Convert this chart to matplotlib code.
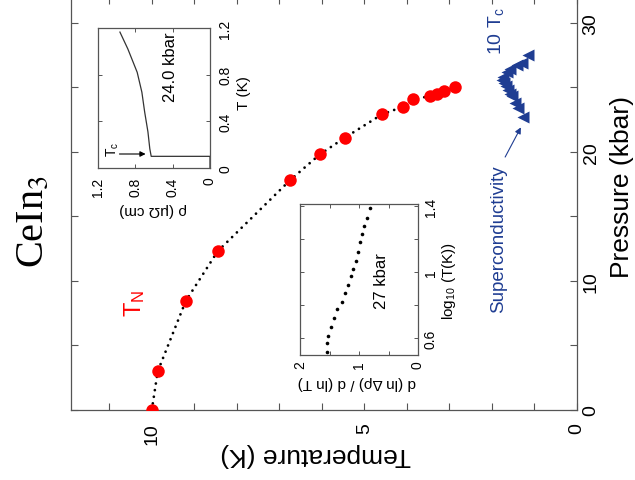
import matplotlib
matplotlib.use('Agg')
import matplotlib.pyplot as plt

plt.rcParams['font.family'] = ['Liberation Sans', 'DejaVu Sans']
plt.rcParams['mathtext.fontset'] = 'custom'
plt.rcParams['mathtext.rm'] = 'Liberation Sans'
plt.rcParams['mathtext.it'] = 'Liberation Sans:italic'

# ---------------- data ----------------
# Neel temperature T_N (K) vs pressure (kbar)
tn_T = [10.0, 9.86, 9.2, 8.45, 6.75, 6.05, 5.46, 4.59, 4.09, 3.86, 3.46, 3.29, 3.13, 2.87]
tn_P = [0.0, 3.0, 8.45, 12.3, 17.8, 19.8, 21.1, 22.9, 23.5, 24.1, 24.3, 24.5, 24.7, 25.0]

# 10 x Tc (K) vs pressure (kbar)
tc10_T = [1.15, 1.29, 1.41, 1.58, 1.65, 1.74, 1.76, 1.72, 1.67, 1.62, 1.58, 1.53, 1.46, 1.39, 1.27]
tc10_P = [27.5, 26.9, 26.7, 26.4, 26.2, 25.8, 25.6, 25.3, 25.1, 24.8, 24.5, 24.3, 23.8, 23.4, 22.7]

# inset 1: resistivity (uOhm cm) vs T (K) at 24.0 kbar
rho_T = [0.0, 0.10, 0.10, 0.165, 0.31, 0.48, 0.65, 0.82, 1.02, 1.165]
rho_v = [0.0, 0.0, 0.63, 0.645, 0.665, 0.70, 0.73, 0.78, 0.88, 0.965]

# inset 2: d(ln drho)/d(ln T) vs log10 T at 27 kbar
exp_logT = [1.385, 1.33, 1.28, 1.23, 1.18, 1.125, 1.07, 1.02, 0.975, 0.925,
            0.875, 0.82, 0.775, 0.725, 0.67, 0.615, 0.57, 0.52]
exp_val = [0.81, 0.86, 0.92, 0.95, 0.98, 1.02, 1.05, 1.10, 1.14, 1.19,
           1.24, 1.29, 1.37, 1.42, 1.47, 1.53, 1.54, 1.54]

main_xticks = [0, 5, 10]
main_yticks = [0, 10, 20, 30]
in1_ticks = [0, 0.4, 0.8, 1.2]
in2_yticks = [0.6, 1.0, 1.4]
in2_ylabels = ['0.6', '1', '1.4']
in2_xticks = [0, 1, 2]

# ---------------- layout helpers ----------------
W, H = 635, 481
fig = plt.figure(figsize=(W / 100, H / 100), dpi=100)


def rect(x0, y0, x1, y1):
    return [x0 / W, 1 - y1 / H, (x1 - x0) / W, (y1 - y0) / H]


def ptext(x, y, s, **kw):
    kw.setdefault('ha', 'center')
    kw.setdefault('va', 'center')
    fig.text(x / W, 1 - y / H, s, **kw)


SP = '#555555'
RED = '#ff0000'
BLUE = '#1f3d92'


def style(ax, lw=0.9):
    for s in ax.spines.values():
        s.set_color(SP)
        s.set_linewidth(lw)


# ---------------- main axes ----------------
ax = fig.add_axes(rect(71, -2, 577, 411))
ax.set_xlim(11.9, 0)
ax.set_ylim(0, 32)
style(ax)
ax.plot(tn_T, tn_P, color='black', lw=2.0, linestyle=(0, (0.01, 2.4)),
        dash_capstyle='round', zorder=2)
ax.plot(tn_T, tn_P, 'o', color=RED, ms=9, mec='none', zorder=3)
ax.plot(tc10_T, tc10_P, '<', color=BLUE, ms=8, mec='none', zorder=3)

ax.set_xticks(main_xticks)
ax.set_xticks(range(0, 12), minor=True)
ax.set_yticks(main_yticks)
ax.set_yticks(range(0, 33, 5), minor=True)
ax.tick_params(which='both', direction='in', top=True, right=True, left=True,
               bottom=True, length=5, width=0.8, color=SP)
ax.tick_params(axis='y', labelleft=False, labelright=True, labelrotation=90,
               labelsize=14, pad=4)
ax.tick_params(axis='x', labelrotation=90, labelsize=14, pad=9)
for l in ax.get_yticklabels():
    l.set_va('center')

ax.annotate('', xy=(1.32, 21.9), xytext=(1.69, 19.6),
            arrowprops=dict(arrowstyle='-|>', color=BLUE, lw=0.8,
                            mutation_scale=9, shrinkA=0, shrinkB=0))

# ---------------- inset 1 ----------------
ax1 = fig.add_axes(rect(98, 29, 210, 169))
ax1.set_xlim(1.2, 0)
ax1.set_ylim(0, 1.2)
style(ax1)
ax1.plot(rho_v, rho_T, color='#333333', lw=0.9)
ax1.set_xticks(in1_ticks)
ax1.set_yticks(in1_ticks)
ax1.set_xticklabels(['0' if v == 0 else f'{v:.1f}' for v in in1_ticks])
ax1.set_yticklabels(['0' if v == 0 else f'{v:.1f}' for v in in1_ticks])
ax1.tick_params(which='both', direction='in', top=True, right=True, left=True,
                bottom=True, length=3, width=0.7, color=SP)
ax1.tick_params(axis='y', labelleft=False, labelright=True, labelrotation=90,
                labelsize=10, pad=6)
ax1.tick_params(axis='x', labelrotation=90, labelsize=10, pad=6)
for l in ax1.get_yticklabels():
    l.set_va('center')
ax1.annotate('', xy=(0.69, 0.12), xytext=(0.97, 0.12),
             arrowprops=dict(arrowstyle='-|>', color='black', lw=0.8,
                             mutation_scale=8, shrinkA=0, shrinkB=0))

# ---------------- inset 2 ----------------
ax2 = fig.add_axes(rect(300, 205, 418, 356))
ax2.set_xlim(2, 0)
ax2.set_ylim(0.5, 1.412)
style(ax2)
ax2.plot(exp_val, exp_logT, 'o', color='black', ms=2.6, mec='none')
ax2.set_yticks(in2_yticks)
ax2.set_yticklabels(in2_ylabels)
ax2.set_yticks([0.8, 1.2], minor=True)
ax2.set_xticks(in2_xticks)
ax2.set_xticks([0.5, 1.5], minor=True)
ax2.tick_params(which='both', direction='in', top=True, right=True, left=True,
                bottom=True, length=3, width=0.7, color=SP)
ax2.tick_params(axis='y', labelleft=False, labelright=True, labelrotation=90,
                labelsize=10, pad=4)
ax2.tick_params(axis='x', labelrotation=90, labelsize=10, pad=4)
for l in ax2.get_yticklabels():
    l.set_va('center')

# ---------------- texts ----------------
ptext(622, 187, 'Pressure (kbar)', rotation=90, fontsize=19)
ptext(316, 455, 'Temperature (K)', rotation=180, fontsize=19)
ptext(33, 222, r'CeIn$_3$', rotation=90, fontsize=29,
      family='Liberation Serif', math_fontfamily='stix')
ptext(135, 303, r'T$_\mathrm{N}$', rotation=90, fontsize=17, color=RED)
ptext(496, 31, r'10 T$_\mathrm{c}$', rotation=90, fontsize=14, color=BLUE)
ptext(499, 239, 'Superconductivity', rotation=90, fontsize=13.5, color=BLUE)

ptext(170, 67, '24.0 kbar', rotation=90, fontsize=12)
ptext(244, 93, 'T (K)', rotation=90, fontsize=11)
ptext(153, 210, 'ρ (μΩ cm)', rotation=180, fontsize=11)
ptext(113, 149, r'T$_\mathrm{c}$', rotation=90, fontsize=10)

ptext(382, 281, '27 kbar', rotation=90, fontsize=12)
ptext(449, 281, r'log$_{10}$ (T(K))', rotation=90, fontsize=11)
ptext(357, 383, 'd (ln Δρ) / d (ln T)', rotation=180, fontsize=11)

fig.savefig('out.png', dpi=100)
